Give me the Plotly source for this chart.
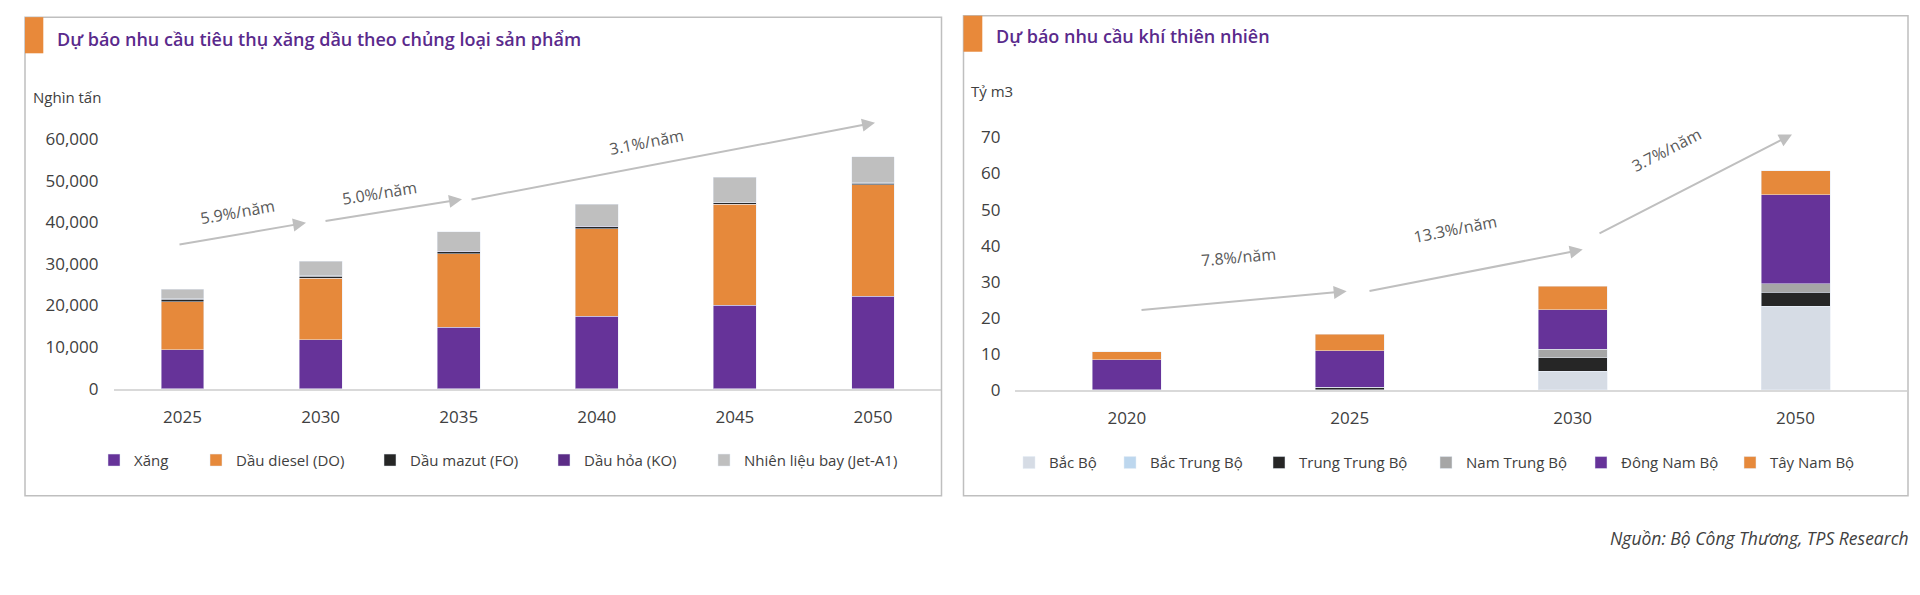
import plotly.graph_objects as go

# ---------------- data ----------------
years_oil = ["2025", "2030", "2035", "2040", "2045", "2050"]
xang = [9400, 11800, 14750, 17350, 20100, 22200]
dau_diesel = [11500, 14700, 17650, 21050, 24200, 26800]
dau_mazut = [600, 550, 500, 550, 450, 400]
dau_hoa = [150, 120, 100, 100, 100, 100]
jet_a1 = [2250, 3480, 4650, 5250, 5950, 6250]

years_gas = ["2020", "2025", "2030", "2050"]
bac_bo = [0, 0, 5.2, 23.2]
bac_trung_bo = [0, 0, 0, 0]
trung_trung_bo = [0, 0.7, 3.75, 3.9]
nam_trung_bo = [0, 0, 2.35, 2.3]
dong_nam_bo = [8.4, 10.2, 10.9, 24.7]
tay_nam_bo = [2.2, 4.6, 6.6, 6.7]

oil_rates = ["5.9%/năm", "5.0%/năm", "3.1%/năm"]
gas_rates = ["7.8%/năm", "13.3%/năm", "3.7%/năm"]

# ---------------- geometry helpers ----------------
W, H = 1920, 595
def px(x):
    return x / W
def py(y):
    return 1 - y / H

FONT = "Open Sans"
TXT = "#404040"
PURPLE = "#663399"
ORANGE = "#E6893B"
BLACK = "#262626"
GRAY = "#BFBFBF"

fig = go.Figure()

oil_series = [
    ("Xăng", xang, PURPLE),
    ("Dầu diesel (DO)", dau_diesel, ORANGE),
    ("Dầu mazut (FO)", dau_mazut, BLACK),
    ("Dầu hỏa (KO)", dau_hoa, "#5B2C86"),
    ("Nhiên liệu bay (Jet-A1)", jet_a1, GRAY),
]
gas_series = [
    ("Bắc Bộ", bac_bo, "#D6DCE5"),
    ("Bắc Trung Bộ", bac_trung_bo, "#BDD7EE"),
    ("Trung Trung Bộ", trung_trung_bo, BLACK),
    ("Nam Trung Bộ", nam_trung_bo, "#A6A6A6"),
    ("Đông Nam Bộ", dong_nam_bo, PURPLE),
    ("Tây Nam Bộ", tay_nam_bo, ORANGE),
]

oil_leg_x = [119, 221, 395, 569, 729]
gas_leg_x = [1034, 1135, 1284, 1451, 1606, 1755]

legends = {}
n = 0
for (name, vals, col), lx in zip(oil_series, oil_leg_x):
    n += 1
    key = "legend" if n == 1 else f"legend{n}"
    fig.add_trace(go.Bar(x=years_oil, y=vals, name=name, marker_color=col,
                         xaxis="x", yaxis="y", legend=key, showlegend=True))
    legends[key] = dict(x=px(lx - 25), y=py(469), xanchor="left", yanchor="middle",
                        orientation="h", bgcolor="rgba(0,0,0,0)",
                        font=dict(family=FONT, size=15, color=TXT))
for (name, vals, col), lx in zip(gas_series, gas_leg_x):
    n += 1
    key = f"legend{n}"
    fig.add_trace(go.Bar(x=years_gas, y=vals, name=name, marker_color=col,
                         xaxis="x2", yaxis="y2", legend=key, showlegend=True))
    legends[key] = dict(x=px(lx - 25), y=py(471.5), xanchor="left", yanchor="middle",
                        orientation="h", bgcolor="rgba(0,0,0,0)",
                        font=dict(family=FONT, size=15, color=TXT))

axis_common = dict(showgrid=False, zeroline=False, ticks="",
                   tickfont=dict(family=FONT, size=17, color=TXT))

fig.update_layout(
    width=W, height=H,
    margin=dict(l=0, r=0, t=0, b=0),
    paper_bgcolor="white", plot_bgcolor="rgba(0,0,0,0)",
    showlegend=True,
    barmode="stack", bargap=0.69,
    font=dict(family=FONT, color=TXT),
    xaxis=dict(domain=[px(113.5), px(942)], showline=True, linecolor="#D9D9D9",
               linewidth=2, ticklabelstandoff=12, **axis_common),
    yaxis=dict(domain=[py(396), py(103.4)], range=[0, 69000], dtick=10000,
               tickformat=",d", showline=False, ticklabelstandoff=14, **axis_common),
    xaxis2=dict(domain=[px(1015.4), px(1907)], anchor="y2", showline=True,
                linecolor="#D9D9D9", linewidth=2, ticklabelstandoff=12, **axis_common),
    yaxis2=dict(domain=[py(397.3), py(106.9)], range=[0, 79], dtick=10, anchor="x2",
                showline=False, ticklabelstandoff=14, **axis_common),
    **legends,
)

# panel frames and orange title blocks
shapes = [
    dict(type="rect", xref="paper", yref="paper", x0=px(25), x1=px(941.5),
         y0=py(505), y1=py(17.5), line=dict(color="#BFBFBF", width=1.5)),
    dict(type="rect", xref="paper", yref="paper", x0=px(963.5), x1=px(1908),
         y0=py(505), y1=py(16), line=dict(color="#BFBFBF", width=1.5)),
    dict(type="rect", xref="paper", yref="paper", x0=px(25), x1=px(43.3),
         y0=py(54.3), y1=py(17.5), line=dict(width=0), fillcolor="#E8893A"),
    dict(type="rect", xref="paper", yref="paper", x0=px(963.5), x1=px(982.3),
         y0=py(52.7), y1=py(16), line=dict(width=0), fillcolor="#E8893A"),
]
fig.update_layout(shapes=shapes)

ann = []
def text(x, y, s, size=15, color=TXT, xanchor="left", angle=0, weight=None, italic=False):
    f = dict(family=FONT, size=size, color=color)
    if weight:
        f["weight"] = weight
    if italic:
        f["style"] = "italic"
    ann.append(dict(x=px(x), y=py(y), xref="paper", yref="paper", text=s,
                    showarrow=False, xanchor=xanchor, yanchor="middle",
                    textangle=angle, font=f))

text(55, 40, "Dự báo nhu cầu tiêu thụ xăng dầu theo chủng loại sản phẩm",
     size=18, color="#5A2A8C", weight=600)
text(994, 37, "Dự báo nhu cầu khí thiên nhiên", size=18, color="#5A2A8C", weight=600)
text(31, 99, "Nghìn tấn", size=15)
text(969, 93, "Tỷ m3", size=15)
text(1911, 548, "Nguồn: Bộ Công Thương, TPS Research", size=17.5,
     xanchor="right", italic=True, color="#404040")

# growth-rate labels
for (cx, cy, ang), s in zip([(237, 216, -10), (379, 197, -9), (646, 145, -11)], oil_rates):
    text(cx, cy, s, size=16, color="#595959", xanchor="center", angle=ang)
for (cx, cy, ang), s in zip([(1238, 262, -5), (1455, 233, -11), (1666, 153, -27)], gas_rates):
    text(cx, cy, s, size=16, color="#595959", xanchor="center", angle=ang)

# growth arrows (start, tip) in pixel positions
arrows = [
    ((178, 249), (306, 227)),
    ((324, 225), (462, 203)),
    ((470, 202), (875, 125)),
    ((1140, 315.7), (1346.7, 296.7)),
    ((1368, 296), (1582.7, 254.3)),
    ((1598, 236.7), (1792, 137)),
]
for (sx, sy), (tx, ty) in arrows:
    ann.append(dict(x=px(tx), y=py(ty), xref="paper", yref="paper", text="",
                    showarrow=True, ax=sx - tx, ay=sy - ty, axref="pixel", ayref="pixel",
                    arrowhead=2, arrowsize=1.3, arrowwidth=2, arrowcolor="#BFBFBF",
                    standoff=0))

fig.update_layout(annotations=ann)

fig.write_html("out.html", config={"displayModeBar": False},
               post_script="document.body.style.margin='0';")
